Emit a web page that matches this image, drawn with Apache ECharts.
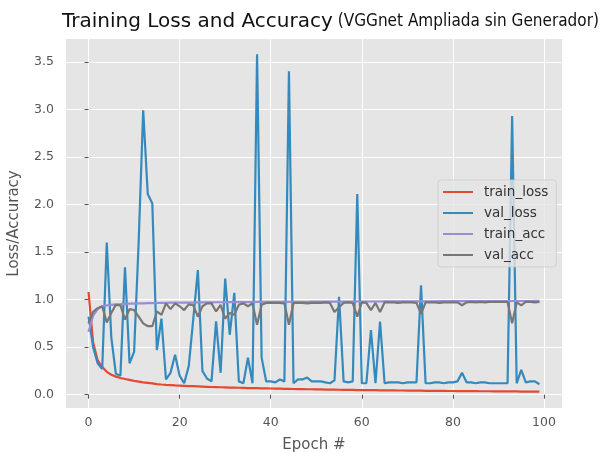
<!DOCTYPE html>
<html>
<head>
<meta charset="utf-8">
<script src="https://cdn.jsdelivr.net/npm/echarts@6/dist/echarts.min.js"></script>
<style>
  html, body { margin: 0; padding: 0; background: #fff; }
  #chart { width: 605px; height: 452px; }
</style>
</head>
<body>
<div id="chart"></div>
<script>
// values, one per epoch (0..99)
const trainLoss = [
  1.08, 0.55, 0.36, 0.29, 0.24, 0.21, 0.19, 0.175, 0.165, 0.155,
  0.145, 0.138, 0.13, 0.124, 0.118, 0.112, 0.107, 0.103, 0.1, 0.097,
  0.095, 0.093, 0.091, 0.089, 0.087, 0.085, 0.083, 0.081, 0.08, 0.078,
  0.077, 0.075, 0.074, 0.073, 0.072, 0.07, 0.069, 0.068, 0.067, 0.066,
  0.065, 0.064, 0.063, 0.062, 0.061, 0.06, 0.059, 0.058, 0.057, 0.057,
  0.056, 0.055, 0.054, 0.054, 0.053, 0.052, 0.051, 0.051, 0.05, 0.049,
  0.049, 0.048, 0.048, 0.047, 0.046, 0.046, 0.045, 0.045, 0.044, 0.044,
  0.043, 0.043, 0.042, 0.042, 0.041, 0.041, 0.04, 0.04, 0.04, 0.039,
  0.039, 0.038, 0.038, 0.038, 0.037, 0.037, 0.036, 0.036, 0.036, 0.035,
  0.035, 0.035, 0.034, 0.034, 0.034, 0.033, 0.033, 0.033, 0.032, 0.032
];
const valLoss = [
  0.82, 0.5, 0.33, 0.27, 1.6, 0.6, 0.22, 0.2, 1.34, 0.33,
  0.45, 1.6, 2.99, 2.11, 2.01, 0.47, 0.8, 0.16, 0.23, 0.42,
  0.2, 0.12, 0.3, 0.8, 1.31, 0.25, 0.17, 0.14, 0.77, 0.23,
  1.22, 0.63, 1.07, 0.14, 0.12, 0.39, 0.12, 3.58, 0.39, 0.14,
  0.14, 0.13, 0.16, 0.14, 3.4, 0.12, 0.16, 0.16, 0.18, 0.14,
  0.14, 0.14, 0.13, 0.12, 0.15, 1.03, 0.14, 0.13, 0.14, 2.11,
  0.12, 0.12, 0.68, 0.12, 0.77, 0.12, 0.13, 0.13, 0.13, 0.12,
  0.13, 0.13, 0.13, 1.15, 0.12, 0.12, 0.13, 0.13, 0.12, 0.13,
  0.13, 0.14, 0.23, 0.13, 0.13, 0.12, 0.13, 0.13, 0.12, 0.12,
  0.12, 0.12, 0.12, 2.93, 0.12, 0.26, 0.13, 0.14, 0.14, 0.11
];
const trainAcc = [
  0.66, 0.83, 0.9, 0.93, 0.94, 0.945, 0.95, 0.952, 0.955, 0.957,
  0.958, 0.96, 0.961, 0.962, 0.963, 0.964, 0.965, 0.966, 0.967, 0.967,
  0.968, 0.968, 0.969, 0.969, 0.97, 0.97, 0.971, 0.971, 0.972, 0.972,
  0.972, 0.973, 0.973, 0.973, 0.974, 0.974, 0.974, 0.975, 0.975, 0.975,
  0.975, 0.976, 0.976, 0.976, 0.976, 0.977, 0.977, 0.977, 0.977, 0.978,
  0.978, 0.978, 0.978, 0.978, 0.979, 0.979, 0.979, 0.979, 0.979, 0.98,
  0.98, 0.98, 0.98, 0.98, 0.98, 0.981, 0.981, 0.981, 0.981, 0.981,
  0.981, 0.982, 0.982, 0.982, 0.982, 0.982, 0.982, 0.983, 0.983, 0.983,
  0.983, 0.983, 0.983, 0.983, 0.984, 0.984, 0.984, 0.984, 0.984, 0.984,
  0.984, 0.985, 0.985, 0.985, 0.985, 0.985, 0.985, 0.985, 0.986, 0.986
];
const valAcc = [
  0.75, 0.87, 0.91, 0.93, 0.76, 0.86, 0.945, 0.94, 0.79, 0.9,
  0.89, 0.82, 0.75, 0.72, 0.72, 0.875, 0.84, 0.96, 0.9, 0.96,
  0.93, 0.89, 0.95, 0.94, 0.82, 0.93, 0.96, 0.96, 0.875, 0.945,
  0.8, 0.86, 0.84, 0.945, 0.96, 0.93, 0.96, 0.735, 0.945, 0.965,
  0.965, 0.965, 0.965, 0.96, 0.735, 0.965, 0.965, 0.965, 0.96, 0.965,
  0.965, 0.965, 0.97, 0.965, 0.87, 0.92, 0.965, 0.97, 0.965, 0.82,
  0.97, 0.965, 0.89, 0.965, 0.87, 0.97, 0.97, 0.97, 0.965, 0.97,
  0.97, 0.97, 0.965, 0.85, 0.97, 0.97, 0.97, 0.965, 0.97, 0.97,
  0.97, 0.97, 0.94, 0.97, 0.975, 0.97, 0.975, 0.97, 0.975, 0.975,
  0.975, 0.975, 0.975, 0.75, 0.97, 0.94, 0.975, 0.975, 0.97, 0.975
];
const xTicks = [0, 20, 40, 60, 80, 100];
const yTicks = [0, 0.5, 1, 1.5, 2, 2.5, 3, 3.5];

const epochs = trainLoss.map((_, i) => i);
const pairs = (arr) => arr.map((v, i) => [epochs[i], v]);

const seriesDefs = [
  { name: 'train_loss', color: '#E24A33', data: trainLoss },
  { name: 'val_loss', color: '#348ABD', data: valLoss },
  { name: 'train_acc', color: '#988ED5', data: trainAcc },
  { name: 'val_acc', color: '#777777', data: valAcc }
];

const tickColor = '#555555';
const font = 'DejaVu Sans';

const chart = echarts.init(document.getElementById('chart'), null, { renderer: 'canvas' });
chart.setOption({
  animation: false,
  backgroundColor: '#ffffff',
  title: {
    left: 57,
    top: 7,
    text: '{a|Training Loss and Accuracy} {b|(VGGnet Ampliada sin Generador)}',
    textStyle: {
      fontWeight: 'normal',
      rich: {
        a: { fontFamily: font, fontSize: 20, fontWeight: 'normal', color: '#111' },
        b: { fontFamily: "'Liberation Sans Narrow', 'DejaVu Sans Condensed', 'Liberation Sans'", fontSize: 17, fontWeight: 'normal', color: '#111' }
      }
    }
  },
  grid: {
    left: 66, right: 43, top: 39, bottom: 44,
    outerBoundsMode: 'none',
    backgroundColor: '#E5E5E5', show: true, borderWidth: 0
  },
  legend: {
    orient: 'vertical',
    left: 438,
    top: 180,
    icon: 'rect',
    itemWidth: 30,
    itemHeight: 2,
    itemGap: 7,
    padding: [5, 8, 5, 5],
    backgroundColor: 'rgba(229,229,229,0.8)',
    borderColor: 'rgba(204,204,204,0.8)',
    borderWidth: 1,
    borderRadius: 3,
    textStyle: { fontFamily: font, fontSize: 13.5, color: '#333', lineHeight: 14, padding: [0, 0, 0, 6] },
    data: seriesDefs.map((s) => s.name)
  },
  xAxis: {
    type: 'value',
    min: -4.95,
    max: 103.95,
    name: 'Epoch #',
    nameLocation: 'middle',
    nameGap: 30,
    nameTextStyle: { fontFamily: font, fontSize: 15, color: tickColor },
    axisLine: { show: false },
    axisTick: { show: true, customValues: xTicks, length: 4, lineStyle: { color: tickColor } },
    axisLabel: { customValues: xTicks, fontFamily: font, fontSize: 12.5, color: tickColor, margin: 8 },
    splitLine: { show: true, lineStyle: { color: '#ffffff', width: 1 } }
  },
  yAxis: {
    type: 'value',
    min: -0.14,
    max: 3.74,
    name: 'Loss/Accuracy',
    nameLocation: 'middle',
    nameGap: 44,
    nameTextStyle: { fontFamily: font, fontSize: 15, color: tickColor },
    axisLine: { show: false },
    axisTick: { show: true, customValues: yTicks, length: 4, lineStyle: { color: tickColor } },
    axisLabel: {
      customValues: yTicks,
      fontFamily: font, fontSize: 12.5, color: tickColor, margin: 12,
      formatter: (v) => v.toFixed(1)
    },
    splitLine: { show: true, lineStyle: { color: '#ffffff', width: 1 } }
  },
  series: seriesDefs.map((s) => ({
    name: s.name,
    type: 'line',
    data: pairs(s.data),
    showSymbol: false,
    symbol: 'none',
    lineStyle: { width: 2.2, color: s.color },
    itemStyle: { color: s.color },
    emphasis: { disabled: true }
  }))
});
</script>
</body>
</html>
